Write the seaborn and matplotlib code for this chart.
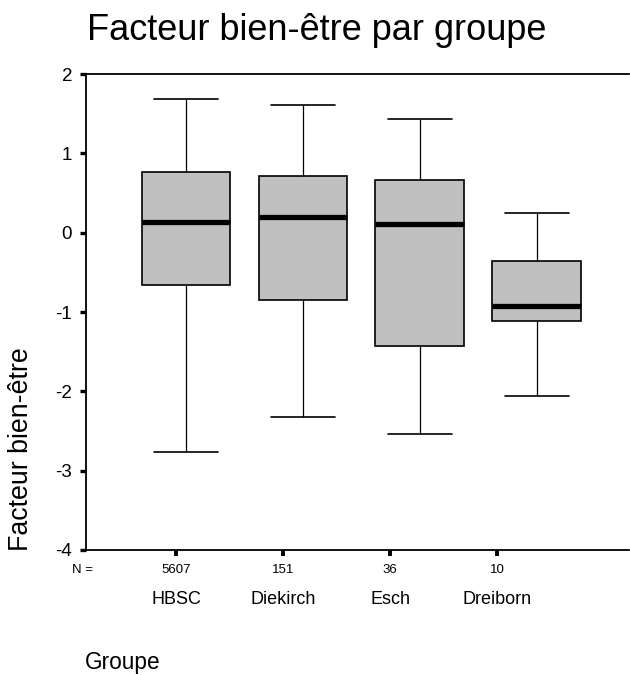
import numpy as np
import pandas as pd
import matplotlib
matplotlib.use("Agg")
import matplotlib.pyplot as plt
import matplotlib.transforms as mtransforms
import seaborn as sns

# Group labels, sample sizes and five-number summaries of the well-being factor
groups = ["HBSC", "Diekirch", "Esch", "Dreiborn"]
n_sizes = [5607, 151, 36, 10]
lower_whisker = [-2.765, -2.32, -2.534, -2.063]
q1 = [-0.665, -0.853, -1.433, -1.109]
median = [0.135, 0.20, 0.11, -0.92]
q3 = [0.765, 0.71, 0.668, -0.362]
upper_whisker = [1.68, 1.605, 1.437, 0.248]
y_ticks = [2, 1, 0, -1, -2, -3, -4]

# Five points per group reproduce the summary exactly (quartiles at positions 1, 2, 3)
rows = []
for g, lo, a, m, b, hi in zip(groups, lower_whisker, q1, median, q3, upper_whisker):
    for v in (lo, a, m, b, hi):
        rows.append({"Groupe": g, "Facteur": v})
df = pd.DataFrame(rows)

sns.set_theme(style="white")
plt.rcParams["font.family"] = ["Liberation Sans", "DejaVu Sans"]

W, H = 630, 675
fig = plt.figure(figsize=(W / 100, H / 100), dpi=100)
ax = fig.add_axes([86 / W, (H - 550) / H, (629 - 86) / W, (550 - 74) / H])

sns.boxplot(
    data=df, x="Groupe", y="Facteur", order=groups, ax=ax,
    whis=(0, 100), width=0.76, color="#c0c0c0", saturation=1,
    linecolor="black", linewidth=1.0, showfliers=False,
    boxprops=dict(facecolor="#c0c0c0", edgecolor="black", linewidth=1.2),
    medianprops=dict(color="black", linewidth=3.8, solid_capstyle="butt"),
    whiskerprops=dict(color="black", linewidth=0.9),
    capprops=dict(color="black", linewidth=1.2),
    capwidths=0.55,
)

ax.set_ylim(-4, 2)
ax.set_xlim(-0.856, 3.79)
ax.set_yticks(y_ticks)
ax.set_yticklabels([str(t) for t in y_ticks], fontsize=13.5)

# Category ticks sit slightly left of the box centres
tick_pos = [-0.086, 0.83, 1.747, 2.663]
ax.set_xticks(tick_pos)
ax.set_xticklabels([str(n) for n in n_sizes], fontsize=9.5)
ax.set_xlabel("")
ax.set_ylabel("")

ax.tick_params(axis="y", direction="out", length=4, width=2.4, pad=6,
               colors="black", left=True)
ax.tick_params(axis="x", direction="out", length=4, width=2.8, pad=6,
               colors="black", bottom=True)
for lbl in ax.get_xticklabels() + ax.get_yticklabels():
    lbl.set_color("black")

for side in ("left", "bottom", "top"):
    ax.spines[side].set_visible(True)
    ax.spines[side].set_color("black")
    ax.spines[side].set_linewidth(1.3)
ax.spines["right"].set_visible(False)

# Group names under the sample sizes
trans = mtransforms.blended_transform_factory(ax.transData, fig.transFigure)
for x, g in zip(tick_pos, groups):
    ax.text(x, 1 - 599 / H, g, transform=trans, ha="center", va="center",
            fontsize=13, color="black")

fig.text(83 / W, 1 - 570 / H, "N =", ha="center", va="center",
         fontsize=9.5, color="black")

fig.text(87 / W, 1 - 40 / H, "Facteur bien-être par groupe",
         ha="left", va="baseline", fontsize=26, color="black")
fig.text(85 / W, 1 - 669 / H, "Groupe", ha="left", va="baseline",
         fontsize=16.3, color="black")
fig.text(21 / W, 1 - 449 / H, "Facteur bien-être", rotation=90,
         ha="center", va="center", fontsize=19.3, color="black")

fig.savefig("out.png", dpi=100, facecolor="white")
